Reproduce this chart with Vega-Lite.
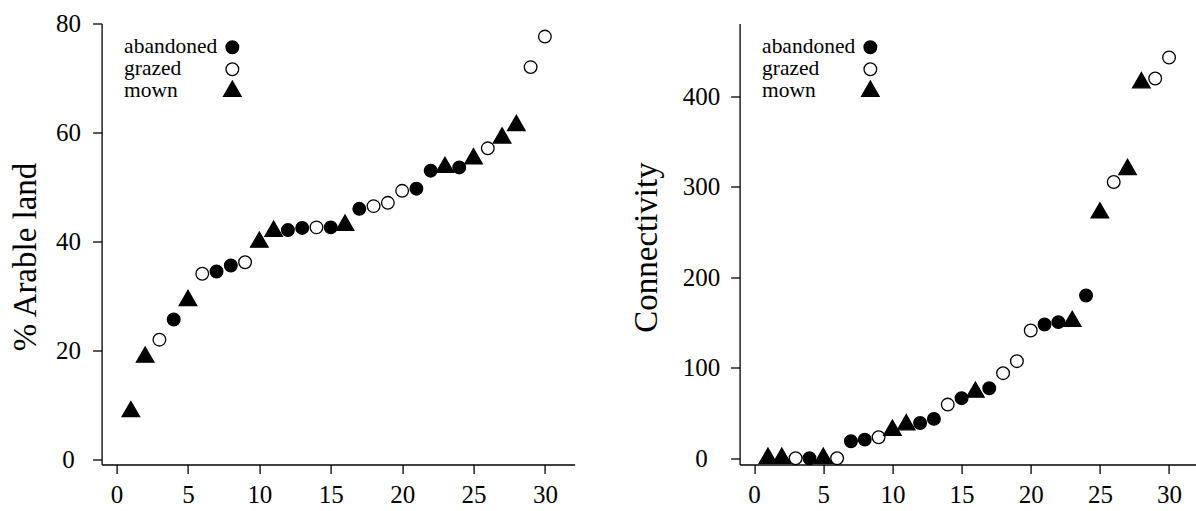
{
  "$schema": "https://vega.github.io/schema/vega-lite/v6.json",
  "autosize": {"type": "pad"},
  "padding": {"left": 9.6, "top": 11.5, "right": 0, "bottom": 0},
  "background": "white",
  "bounds": "flush",
  "spacing": 165,
  "config": {
    "view": {"stroke": null},
    "font": "Liberation Serif",
    "axis": {
      "grid": false,
      "domainColor": "black",
      "domainWidth": 1.3,
      "tickColor": "black",
      "tickWidth": 1.3,
      "tickSize": 9,
      "labelFont": "Liberation Serif",
      "labelFontSize": 25,
      "labelColor": "black",
      "titleFont": "Liberation Serif",
      "titleFontSize": 33,
      "titleFontWeight": "normal",
      "titleColor": "black"
    },
    "legend": {
      "padding": 0,
      "labelFont": "Liberation Serif",
      "labelFontSize": 21.5,
      "labelColor": "black",
      "symbolSize": 160,
      "symbolStrokeWidth": 1.3
    }
  },
  "datasets": {
    "arable": [
      {"rank": 1, "treatment": "mown", "arable": 8.8},
      {"rank": 2, "treatment": "mown", "arable": 18.8},
      {"rank": 3, "treatment": "grazed", "arable": 22.0},
      {"rank": 4, "treatment": "abandoned", "arable": 25.7},
      {"rank": 5, "treatment": "mown", "arable": 29.2},
      {"rank": 6, "treatment": "grazed", "arable": 34.1},
      {"rank": 7, "treatment": "abandoned", "arable": 34.5},
      {"rank": 8, "treatment": "abandoned", "arable": 35.6},
      {"rank": 9, "treatment": "grazed", "arable": 36.2},
      {"rank": 10, "treatment": "mown", "arable": 39.9},
      {"rank": 11, "treatment": "mown", "arable": 41.9},
      {"rank": 12, "treatment": "abandoned", "arable": 42.1},
      {"rank": 13, "treatment": "abandoned", "arable": 42.5},
      {"rank": 14, "treatment": "grazed", "arable": 42.6},
      {"rank": 15, "treatment": "abandoned", "arable": 42.6},
      {"rank": 16, "treatment": "mown", "arable": 43.0},
      {"rank": 17, "treatment": "abandoned", "arable": 46.0},
      {"rank": 18, "treatment": "grazed", "arable": 46.5},
      {"rank": 19, "treatment": "grazed", "arable": 47.1},
      {"rank": 20, "treatment": "grazed", "arable": 49.3},
      {"rank": 21, "treatment": "abandoned", "arable": 49.7},
      {"rank": 22, "treatment": "abandoned", "arable": 53.0},
      {"rank": 23, "treatment": "mown", "arable": 53.6},
      {"rank": 24, "treatment": "abandoned", "arable": 53.6},
      {"rank": 25, "treatment": "mown", "arable": 55.2},
      {"rank": 26, "treatment": "grazed", "arable": 57.1},
      {"rank": 27, "treatment": "mown", "arable": 59.0},
      {"rank": 28, "treatment": "mown", "arable": 61.3},
      {"rank": 29, "treatment": "grazed", "arable": 72.0},
      {"rank": 30, "treatment": "grazed", "arable": 77.6}
    ],
    "connectivity": [
      {"rank": 1, "treatment": "mown", "connectivity": 0},
      {"rank": 2, "treatment": "mown", "connectivity": 0},
      {"rank": 3, "treatment": "grazed", "connectivity": 0},
      {"rank": 4, "treatment": "abandoned", "connectivity": 0},
      {"rank": 5, "treatment": "mown", "connectivity": 0},
      {"rank": 6, "treatment": "grazed", "connectivity": 0},
      {"rank": 7, "treatment": "abandoned", "connectivity": 18.8},
      {"rank": 8, "treatment": "abandoned", "connectivity": 20.6},
      {"rank": 9, "treatment": "grazed", "connectivity": 23.2},
      {"rank": 10, "treatment": "mown", "connectivity": 31},
      {"rank": 11, "treatment": "mown", "connectivity": 37},
      {"rank": 12, "treatment": "abandoned", "connectivity": 39},
      {"rank": 13, "treatment": "abandoned", "connectivity": 43.5},
      {"rank": 14, "treatment": "grazed", "connectivity": 59.3},
      {"rank": 15, "treatment": "abandoned", "connectivity": 66.4},
      {"rank": 16, "treatment": "mown", "connectivity": 73.1},
      {"rank": 17, "treatment": "abandoned", "connectivity": 77.4},
      {"rank": 18, "treatment": "grazed", "connectivity": 94},
      {"rank": 19, "treatment": "grazed", "connectivity": 107.3},
      {"rank": 20, "treatment": "grazed", "connectivity": 141.2},
      {"rank": 21, "treatment": "abandoned", "connectivity": 147.8},
      {"rank": 22, "treatment": "abandoned", "connectivity": 150.4},
      {"rank": 23, "treatment": "mown", "connectivity": 151.3},
      {"rank": 24, "treatment": "abandoned", "connectivity": 179.9},
      {"rank": 25, "treatment": "mown", "connectivity": 271.1},
      {"rank": 26, "treatment": "grazed", "connectivity": 305.3},
      {"rank": 27, "treatment": "mown", "connectivity": 319.1},
      {"rank": 28, "treatment": "mown", "connectivity": 414.9},
      {"rank": 29, "treatment": "grazed", "connectivity": 419.6},
      {"rank": 30, "treatment": "grazed", "connectivity": 442.8}
    ]
  },
  "hconcat": [
    {
      "width": 473,
      "height": 441,
      "data": {"name": "arable"},
      "mark": {"type": "point", "size": 160, "strokeWidth": 1.3, "opacity": 1},
      "encoding": {
        "x": {"field": "rank", "type": "quantitative",
              "scale": {"domain": [-1.05, 32.08], "nice": false, "zero": false},
              "axis": {"values": [0, 5, 10, 15, 20, 25, 30], "title": null, "labelPadding": 9}},
        "y": {"field": "arable", "type": "quantitative",
              "scale": {"domain": [-0.9, 80], "nice": false, "zero": false},
              "axis": {"values": [0, 20, 40, 60, 80], "title": "% Arable land", "labelAlign": "center", "labelBaseline": "middle", "labelPadding": 24.7, "titleAngle": -90, "titleAlign": "center", "titleBaseline": "alphabetic", "titleX": -66, "titleY": 233}},
        "shape": {"field": "treatment", "type": "nominal",
                  "scale": {"domain": ["abandoned", "grazed", "mown"], "range": ["circle", "circle", "M0,-1.6L1.385,0.8L-1.385,0.8Z"]},
                  "legend": {"title": null, "orient": "none", "legendX": 120, "legendY": 13, "labelOffset": -119, "labelAlign": "left", "rowPadding": -3}},
        "fill": {"field": "treatment", "type": "nominal",
                 "scale": {"domain": ["abandoned", "grazed", "mown"], "range": ["black", "white", "black"]},
                 "legend": {"title": null, "orient": "none", "legendX": 120, "legendY": 13, "labelOffset": -119, "labelAlign": "left", "rowPadding": -3}},
        "stroke": {"field": "treatment", "type": "nominal",
                   "scale": {"domain": ["abandoned", "grazed", "mown"], "range": ["black", "black", "black"]},
                   "legend": {"title": null, "orient": "none", "legendX": 120, "legendY": 13, "labelOffset": -119, "labelAlign": "left", "rowPadding": -3}}
      }
    },
    {
      "width": 456,
      "height": 441,
      "data": {"name": "connectivity"},
      "mark": {"type": "point", "size": 160, "strokeWidth": 1.3, "opacity": 1},
      "encoding": {
        "x": {"field": "rank", "type": "quantitative",
              "scale": {"domain": [-1.05, 31.92], "nice": false, "zero": false},
              "axis": {"values": [0, 5, 10, 15, 20, 25, 30], "title": null, "labelPadding": 9}},
        "y": {"field": "connectivity", "type": "quantitative",
              "scale": {"domain": [-6.9, 480.4], "nice": false, "zero": false},
              "axis": {"values": [0, 100, 200, 300, 400], "title": "Connectivity", "labelAlign": "center", "labelBaseline": "middle", "labelPadding": 29.5, "titleAngle": -90, "titleAlign": "center", "titleBaseline": "alphabetic", "titleX": -83, "titleY": 223.5}},
        "shape": {"field": "treatment", "type": "nominal",
                  "scale": {"domain": ["abandoned", "grazed", "mown"], "range": ["circle", "circle", "M0,-1.6L1.385,0.8L-1.385,0.8Z"]},
                  "legend": {"title": null, "orient": "none", "legendX": 120, "legendY": 13, "labelOffset": -119, "labelAlign": "left", "rowPadding": -3}},
        "fill": {"field": "treatment", "type": "nominal",
                 "scale": {"domain": ["abandoned", "grazed", "mown"], "range": ["black", "white", "black"]},
                 "legend": {"title": null, "orient": "none", "legendX": 120, "legendY": 13, "labelOffset": -119, "labelAlign": "left", "rowPadding": -3}},
        "stroke": {"field": "treatment", "type": "nominal",
                   "scale": {"domain": ["abandoned", "grazed", "mown"], "range": ["black", "black", "black"]},
                   "legend": {"title": null, "orient": "none", "legendX": 120, "legendY": 13, "labelOffset": -119, "labelAlign": "left", "rowPadding": -3}}
      }
    }
  ],
  "resolve": {
    "scale": {"x": "independent", "y": "independent", "shape": "independent", "fill": "independent", "stroke": "independent"},
    "legend": {"shape": "independent", "fill": "independent", "stroke": "independent"}
  }
}
